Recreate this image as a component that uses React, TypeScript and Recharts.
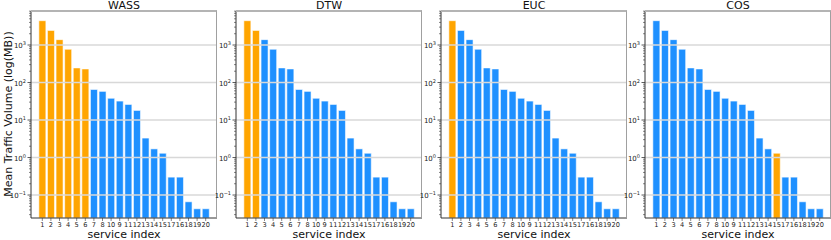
import { BarChart, Bar, XAxis, YAxis, Cell, ReferenceLine } from "recharts";

const serviceLabels = ["1", "2", "3", "4", "5", "6", "7", "8", "10", "9", "11", "12", "13", "14", "15", "17", "16", "18", "19", "20"];
const meanTraffic = [4450, 2450, 1390, 770, 245, 230, 65, 58, 38, 32, 26, 18, 3.3, 1.7, 1.3, 0.3, 0.3, 0.066, 0.043, 0.043];

const panelTitles = ["WASS", "DTW", "EUC", "COS"];
// which bars are picked out in orange, per panel
const wassPicked = ["1", "2", "3", "4", "5", "6"];
const dtwPicked = ["1", "2"];
const eucPicked = ["1"];
const cosPicked = ["15"];

const majorTicks = [0.1, 1, 10, 100, 1000];
const tickExponents = ["−1", "0", "1", "2", "3"];

const minorTicks: number[] = [];
[0.01, 0.1, 1, 10, 100, 1000].forEach((d) => {
  [2, 3, 4, 5, 6, 7, 8, 9].forEach((m) => minorTicks.push(d * m));
});
const allTicks = [...majorTicks, ...minorTicks].filter((v) => v > 0.0244 && v < 8070).sort((a, b) => a - b);

const ORANGE = "#ffa500";
const BLUE = "#1e90ff";
const FONT = "DejaVu Sans, sans-serif";

const plotLefts = [31, 236, 441, 645];
const PLOT_W = 186;
const AXIS_W = 26;
const PLOT_TOP = 11;
const PLOT_BOTTOM = 218;

function YTick(props: any) {
  const { x, y, payload } = props;
  const i = majorTicks.indexOf(payload.value);
  if (i < 0) {
    return <line x1={x} x2={x - 2} y1={y} y2={y} stroke="#333" strokeWidth={0.6} />;
  }
  return (
    <g>
      <line x1={x} x2={x - 3.5} y1={y} y2={y} stroke="#333" strokeWidth={0.8} />
      <text x={x - 5} y={y + 3} textAnchor="end" fontSize={7} fill="#222" fontFamily={FONT}>
        <tspan>10</tspan>
        <tspan dy={-3} fontSize={5}>{tickExponents[i]}</tspan>
      </text>
    </g>
  );
}

function XTick(props: any) {
  const { x, y, payload } = props;
  return (
    <g>
      <line x1={x} x2={x} y1={y} y2={y + 3} stroke="#333" strokeWidth={0.6} />
      <text x={x} y={y + 8.5} textAnchor="middle" fontSize={6.6} fill="#222" fontFamily={FONT}>
        {payload.value}
      </text>
    </g>
  );
}

function Panel({ idx, picked }: { idx: number; picked: string[] }) {
  const data = serviceLabels.map((s, i) => ({ service: s, value: meanTraffic[i] }));
  const left = plotLefts[idx];
  return (
    <div style={{ position: "absolute", left: left - AXIS_W, top: 0 }}>
      <div
        style={{
          position: "absolute",
          left: AXIS_W,
          width: PLOT_W,
          top: 0,
          lineHeight: "11px",
          textAlign: "center",
          fontFamily: FONT,
          fontSize: 11,
          color: "#111",
        }}
      >
        {panelTitles[idx]}
      </div>
      <BarChart
        width={AXIS_W + PLOT_W}
        height={240}
        data={data}
        margin={{ top: PLOT_TOP, right: 0, bottom: 0, left: 0 }}
        barCategoryGap="10%"
      >
        <XAxis
          dataKey="service"
          interval={0}
          padding={{ left: 7, right: 7 }}
          tick={<XTick />}
          tickLine={false}
          tickSize={0}
          tickMargin={0}
          axisLine={{ stroke: "#333", strokeWidth: 1 }}
          height={240 - PLOT_BOTTOM}
          label={{ value: "service index", position: "insideBottom", offset: 2.5, fontSize: 11, fill: "#111", fontFamily: FONT }}
        />
        <YAxis
          scale="log"
          type="number"
          domain={[0.0244, 8070]}
          allowDataOverflow
          ticks={allTicks}
          interval={0}
          width={AXIS_W}
          tick={<YTick />}
          tickLine={false}
          tickSize={0}
          tickMargin={0}
          axisLine={{ stroke: "#333", strokeWidth: 1 }}
        />
        {majorTicks.map((t) => (
          <ReferenceLine key={t} y={t} stroke="#d8d8d8" strokeWidth={1.5} />
        ))}
        <Bar dataKey="value" isAnimationActive={false} stroke="#ffffff" strokeOpacity={0.7} strokeWidth={0.8}>
          {data.map((d) => (
            <Cell key={d.service} fill={picked.includes(d.service) ? ORANGE : BLUE} />
          ))}
        </Bar>
      </BarChart>
      <div
        style={{
          position: "absolute",
          left: AXIS_W,
          top: PLOT_TOP - 1,
          width: PLOT_W,
          height: PLOT_BOTTOM - PLOT_TOP,
          borderTop: "2px solid #b4b4b4",
          borderRight: "1.5px solid #a0a0a0",
          boxSizing: "border-box",
          pointerEvents: "none",
        }}
      />
    </div>
  );
}

export default function App() {
  return (
    <div style={{ position: "absolute", left: 0, top: 0, width: 831, height: 240, background: "#fff", overflow: "hidden" }}>
      <div
        style={{
          position: "absolute",
          left: 8,
          top: 114,
          transform: "translate(-50%, -50%) rotate(-90deg)",
          whiteSpace: "nowrap",
          fontFamily: FONT,
          fontSize: 11,
          color: "#111",
        }}
      >
        Mean Traffic Volume (log(MB))
      </div>
      <Panel idx={0} picked={wassPicked} />
      <Panel idx={1} picked={dtwPicked} />
      <Panel idx={2} picked={eucPicked} />
      <Panel idx={3} picked={cosPicked} />
    </div>
  );
}
